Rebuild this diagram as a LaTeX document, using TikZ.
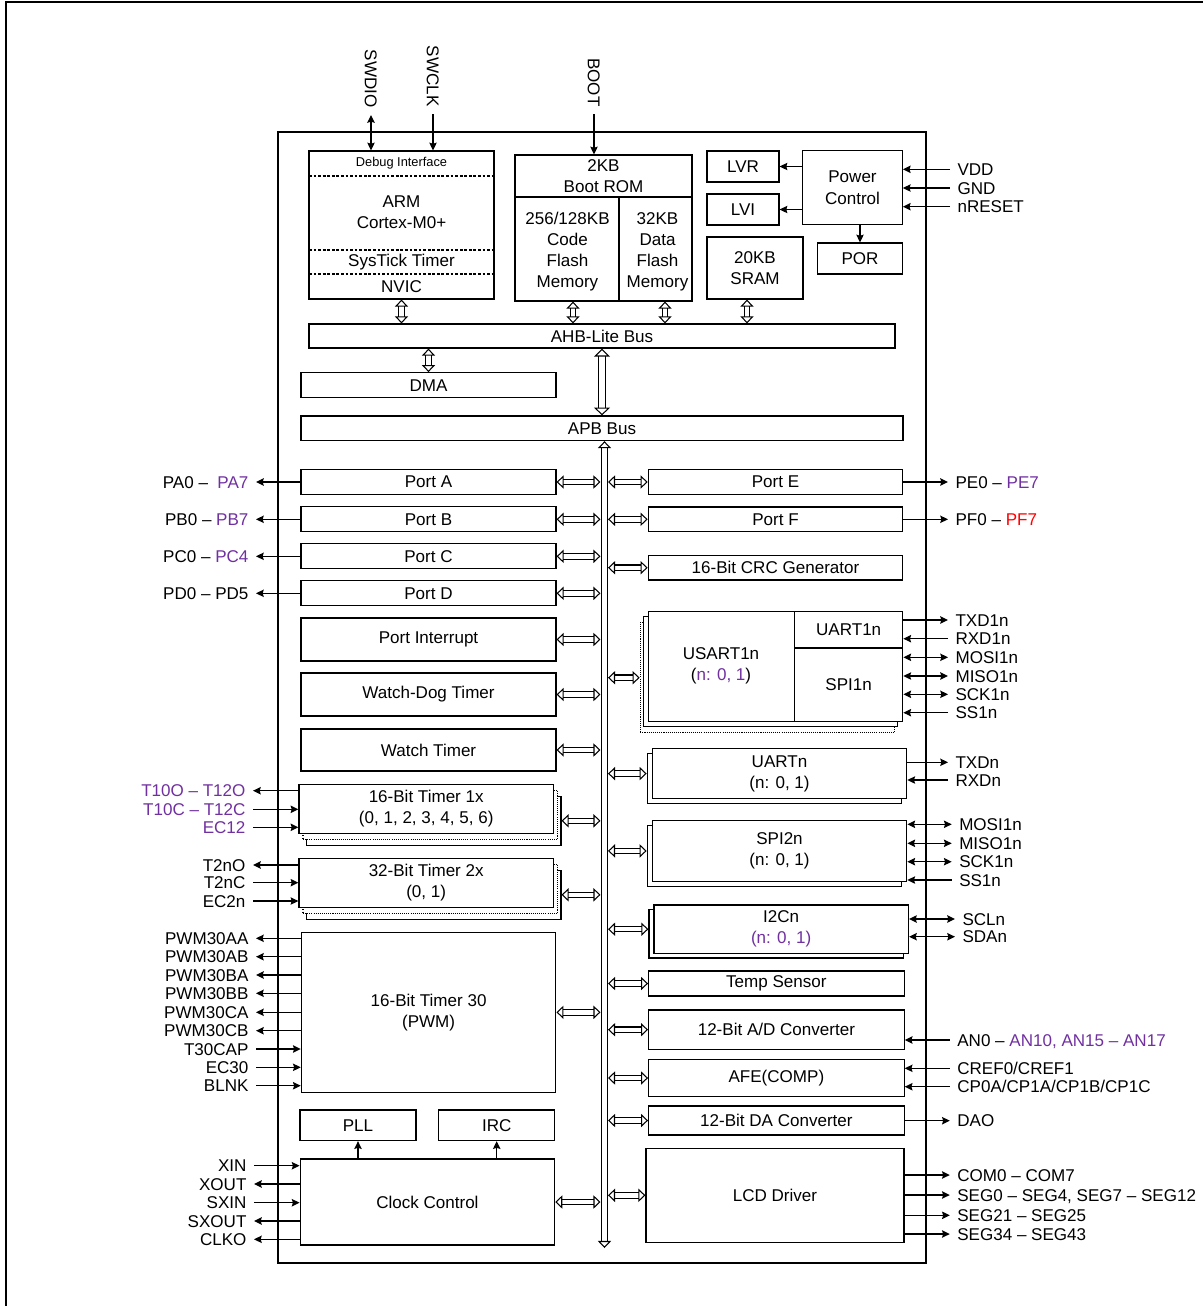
\documentclass[tikz,border=0pt]{standalone}
\usepackage{fontspec}
\setmainfont{Liberation Sans}
\usetikzlibrary{arrows.meta,positioning}
\definecolor{sigpurple}{RGB}{112,48,160}
\definecolor{sigred}{RGB}{255,0,0}

\begin{document}
\begin{tikzpicture}[x=0.02cm,y=-0.02cm,
  every node/.style={font=\fontsize{9.7}{12}\selectfont},
  blk/.style={draw,line width=.7pt,fill=white,inner sep=0pt,align=center},
  dotblk/.style={blk,dash pattern=on .6pt off .6pt},
  sig/.style={inner sep=0pt,outer sep=4.3pt,text height=6.9pt,text depth=0pt},
  wire/.style={line width=.7pt,-{Stealth[length=4.4pt,width=4.2pt,inset=.6pt]}},
  wire2/.style={line width=.7pt,{Stealth[length=4.4pt,width=4.2pt,inset=.6pt]}-{Stealth[length=4.4pt,width=4.2pt,inset=.6pt]}},
  busarr/.style={double,double distance=2.5pt,line width=.6pt,
    {Triangle[open,line width=.6pt,length=4pt,width=7.5pt]}-{Triangle[open,line width=.6pt,length=4pt,width=7.5pt]}},
  busarrw/.style={double,double distance=3.6pt,line width=.6pt,
    {Triangle[open,line width=.6pt,length=4.5pt,width=9pt]}-{Triangle[open,line width=.6pt,length=4.5pt,width=9pt]}}]
\useasboundingbox (0,0) rectangle (1203,1306);
\draw[line width=1.15pt] (6,1306) -- (6,2) -- (1203,2);
\draw[line width=.7pt] (278,132) rectangle (926,1263);

% core and memories
\node[blk,minimum width=3.7cm,minimum height=2.96cm] (dbg) at (401.5,225) {};
\draw[line width=.6pt,dash pattern=on 1.6pt off 1pt] (309,176)--(494,176) (309,250)--(494,250) (309,274)--(494,274);
\node[font=\fontsize{7.3}{9}\selectfont] (dbgif) at (401.5,163) {Debug Interface};
\node[align=center] (arm) at (401.5,212) {ARM\\Cortex-M0+};
\node (systick) at (401.5,262) {SysTick Timer};
\node (nvic) at (401.5,286.5) {NVIC};
\node[blk,minimum width=3.54cm,minimum height=2.92cm] (mem) at (603.5,228) {};
\draw[line width=.7pt] (515,197)--(692,197) (619,197)--(619,301);
\node[align=center] (bootrom) at (603.5,176) {2KB\\Boot ROM};
\node[align=center] (cflash) at (567.5,251.5) {256/128KB\\Code\\Flash\\Memory};
\node[align=center] (dflash) at (657.5,251.5) {32KB\\Data\\Flash\\Memory};
\node[blk,minimum width=1.44cm,minimum height=.62cm] (lvr) at (743,166.5) {LVR};
\node[blk,minimum width=1.44cm,minimum height=.62cm] (lvi) at (743,209.5) {LVI};
\node[blk,minimum width=1.92cm,minimum height=1.24cm] (sram) at (755,268) {20KB\\SRAM};
\node[blk,minimum width=1.99cm,minimum height=1.48cm] (pwr) at (852.5,187.7) {Power\\Control};
\node[blk,minimum width=1.69cm,minimum height=.62cm] (por) at (860,258.5) {POR};
\draw[wire] (pwr.west |- lvr) -- (lvr.east);
\draw[wire] (pwr.west |- lvi) -- (lvi.east);
\draw[wire] (pwr.south -| por) -- (por.north);
\node[sig,anchor=west] (vdd) at (950,169.3) {VDD};\draw[wire] (vdd.west) -- (vdd.west -| pwr.east);
\node[sig,anchor=west] (gnd) at (950,188) {GND};\draw[wire] (gnd.west) -- (gnd.west -| pwr.east);
\node[sig,anchor=west] (nrst) at (950,206.7) {nRESET};\draw[wire] (nrst.west) -- (nrst.west -| pwr.east);
\node[sig,rotate=-90,anchor=east] (swdio) at (371,115) {SWDIO};\draw[wire2] (swdio.east) -- (swdio.east |- dbg.north);
\node[sig,rotate=-90,anchor=east] (swclk) at (433,114) {SWCLK};\draw[wire] (swclk.east) -- (swclk.east |- dbg.north);
\node[sig,rotate=-90,anchor=east] (boot) at (594,114) {BOOT};\draw[wire] (boot.east) -- (boot.east |- mem.north);

% buses
\node[blk,minimum width=11.72cm,minimum height=.48cm] (ahb) at (602,336) {AHB-Lite Bus};
\node[blk,minimum width=5.1cm,minimum height=.5cm] (dma) at (428.5,385.2) {DMA};
\node[blk,minimum width=12.04cm,minimum height=.49cm] (apb) at (602,428.3) {APB Bus};
\coordinate (m1) at (573,0);\coordinate (m2) at (665,0);\coordinate (s1) at (747,0);
\coordinate (busL) at (600.5,0);\coordinate (busR) at (608,0);\coordinate (busend) at (604.5,1248);
\draw[busarr] (dbg.south) -- (dbg.south |- ahb.north);
\draw[busarr] (mem.south -| m1) -- (ahb.north -| m1);
\draw[busarr] (mem.south -| m2) -- (ahb.north -| m2);
\draw[busarr] (sram.south -| s1) -- (ahb.north -| s1);
\draw[busarr] (ahb.south -| dma) -- (dma.north);
\draw[busarrw] (ahb.south) -- (apb.north);
\draw[busarr] (apb.south -| busend) -- (busend);

% left peripherals
\node[blk,minimum width=5.1cm,minimum height=.5cm] (porta) at (428.5,482) {Port A};
\node[blk,minimum width=5.1cm,minimum height=.5cm] (portb) at (428.5,519.3) {Port B};
\node[blk,minimum width=5.1cm,minimum height=.5cm] (portc) at (428.5,556.3) {Port C};
\node[blk,minimum width=5.1cm,minimum height=.5cm] (portd) at (428.5,593.3) {Port D};
\node[blk,minimum width=5.1cm,minimum height=.86cm] (portint) at (428.5,639.5) {Port Interrupt};
\node[blk,minimum width=5.1cm,minimum height=.86cm] (wdt) at (428.5,694.5) {Watch-Dog Timer};
\node[blk,minimum width=5.1cm,minimum height=.84cm] (wt) at (428.5,750) {Watch Timer};
\node[blk,minimum width=5.09cm,minimum height=.98cm] (tmr1c) at (433.7,820.8) {};
\node[dotblk,minimum width=5.09cm,minimum height=.98cm] (tmr1b) at (430.2,814.8) {};
\node[blk,minimum width=5.09cm,minimum height=.98cm] (tmr1) at (426.2,808.8) {16-Bit Timer 1x\\(0, 1, 2, 3, 4, 5, 6)};
\node[blk,minimum width=5.09cm,minimum height=.98cm] (tmr2c) at (433.7,894.8) {};
\node[dotblk,minimum width=5.09cm,minimum height=.98cm] (tmr2b) at (430.2,888.8) {};
\node[blk,minimum width=5.09cm,minimum height=.98cm] (tmr2) at (426.2,882.8) {32-Bit Timer 2x\\(0, 1)};
\node[blk,minimum width=5.09cm,minimum height=3.2cm] (tmr30) at (428.6,1012.3) {16-Bit Timer 30\\(PWM)};
\node[blk,minimum width=2.32cm,minimum height=.61cm] (pll) at (358,1125.3) {PLL};
\node[blk,minimum width=2.32cm,minimum height=.61cm] (irc) at (496.7,1125.3) {IRC};
\node[blk,minimum width=5.09cm,minimum height=1.72cm] (clk) at (427.4,1202) {Clock Control};
\draw[wire] (clk.north -| pll) -- (pll.south);
\draw[wire] (clk.north -| irc) -- (irc.south);
\draw[busarr] (porta.east) -- (porta.east -| busL);
\draw[busarr] (portb.east) -- (portb.east -| busL);
\draw[busarr] (portc.east) -- (portc.east -| busL);
\draw[busarr] (portd.east) -- (portd.east -| busL);
\draw[busarr] (portint.east) -- (portint.east -| busL);
\draw[busarr] (wdt.east) -- (wdt.east -| busL);
\draw[busarr] (wt.east) -- (wt.east -| busL);
\draw[busarr] (tmr1c.east) -- (tmr1c.east -| busL);
\draw[busarr] (tmr2c.east) -- (tmr2c.east -| busL);
\draw[busarr] (tmr30.east) -- (tmr30.east -| busL);
\draw[busarr] (clk.east) -- (clk.east -| busL);

% left pins
\node[sig,anchor=east] (pa) at (256,482) {PA0 –\ \ \textcolor{sigpurple}{PA7}};\draw[wire] (porta.west) -- (pa.east);
\node[sig,anchor=east] (pb) at (256,519.3) {PB0 – \textcolor{sigpurple}{PB7}};\draw[wire] (portb.west) -- (pb.east);
\node[sig,anchor=east] (pc) at (256,556.3) {PC0 – \textcolor{sigpurple}{PC4}};\draw[wire] (portc.west) -- (pc.east);
\node[sig,anchor=east] (pd) at (256,593.3) {PD0 – PD5};\draw[wire] (portd.west) -- (pd.east);
\node[sig,anchor=east,text=sigpurple] (t1o) at (253,790.7) {T10O – T12O};\draw[wire] (t1o.east -| tmr1.west) -- (t1o.east);
\node[sig,anchor=east,text=sigpurple] (t1c) at (253,809.3) {T10C – T12C};\draw[wire] (t1c.east) -- (t1c.east -| tmr1.west);
\node[sig,anchor=east,text=sigpurple] (ec12) at (253,827.3) {EC12};\draw[wire] (ec12.east) -- (ec12.east -| tmr1.west);
\node[sig,anchor=east] (t2o) at (253,865) {T2nO};\draw[wire] (t2o.east -| tmr2.west) -- (t2o.east);
\node[sig,anchor=east] (t2c) at (253,882.7) {T2nC};\draw[wire] (t2c.east) -- (t2c.east -| tmr2.west);
\node[sig,anchor=east] (ec2n) at (253,901) {EC2n};\draw[wire] (ec2n.east) -- (ec2n.east -| tmr2.west);
\node[sig,anchor=east] (pwmaa) at (256,938.3) {PWM30AA};\draw[wire] (pwmaa.east -| tmr30.west) -- (pwmaa.east);
\node[sig,anchor=east] (pwmab) at (256,956.7) {PWM30AB};\draw[wire] (pwmab.east -| tmr30.west) -- (pwmab.east);
\node[sig,anchor=east] (pwmba) at (256,975) {PWM30BA};\draw[wire] (pwmba.east -| tmr30.west) -- (pwmba.east);
\node[sig,anchor=east] (pwmbb) at (256,993.3) {PWM30BB};\draw[wire] (pwmbb.east -| tmr30.west) -- (pwmbb.east);
\node[sig,anchor=east] (pwmca) at (256,1012.3) {PWM30CA};\draw[wire] (pwmca.east -| tmr30.west) -- (pwmca.east);
\node[sig,anchor=east] (pwmcb) at (256,1030.7) {PWM30CB};\draw[wire] (pwmcb.east -| tmr30.west) -- (pwmcb.east);
\node[sig,anchor=east] (t30cap) at (256,1049) {T30CAP};\draw[wire] (t30cap.east) -- (t30cap.east -| tmr30.west);
\node[sig,anchor=east] (ec30) at (256,1067.3) {EC30};\draw[wire] (ec30.east) -- (ec30.east -| tmr30.west);
\node[sig,anchor=east] (blnk) at (256,1085.7) {BLNK};\draw[wire] (blnk.east) -- (blnk.east -| tmr30.west);
\node[sig,anchor=east] (xin) at (254,1165.7) {XIN};\draw[wire] (xin.east) -- (xin.east -| clk.west);
\node[sig,anchor=east] (xout) at (254,1184) {XOUT};\draw[wire] (xout.east -| clk.west) -- (xout.east);
\node[sig,anchor=east] (sxin) at (254,1202.7) {SXIN};\draw[wire] (sxin.east) -- (sxin.east -| clk.west);
\node[sig,anchor=east] (sxout) at (254,1221) {SXOUT};\draw[wire] (sxout.east -| clk.west) -- (sxout.east);
\node[sig,anchor=east] (clko) at (254,1239.3) {CLKO};\draw[wire] (clko.east -| clk.west) -- (clko.east);

% right peripherals
\node[blk,minimum width=5.09cm,minimum height=.49cm] (porte) at (775.5,482) {Port E};
\node[blk,minimum width=5.09cm,minimum height=.49cm] (portf) at (775.5,519.3) {Port F};
\node[blk,minimum width=5.09cm,minimum height=.49cm] (crc) at (775.5,567.7) {16-Bit CRC Generator};
\node[dotblk,minimum width=5.09cm,minimum height=2.2cm] (usartc) at (767.5,677.7) {};
\node[blk,minimum width=5.09cm,minimum height=2.2cm] (usartb) at (770.5,671.7) {};
\node[blk,minimum width=5.09cm,minimum height=2.2cm] (usart) at (775.5,666.7) {};
\draw[line width=.7pt] (794.7,611.7)--(794.7,721.7) (794.7,648)--(902.7,648);
\node[align=center] (usarttxt) at (721,665.5) {USART1n\\(\textcolor{sigpurple}{n: 0, 1})};
\node (uart1) at (848.7,630) {UART1n};
\node (spi1) at (848.7,684.3) {SPI1n};
\node[blk,minimum width=5.09cm,minimum height=.99cm] (uartsh) at (774.5,778.6) {};
\node[blk,minimum width=5.09cm,minimum height=.99cm] (uart) at (779.5,773.6) {UARTn\\(n: 0, 1)};
\node[blk,minimum width=5.09cm,minimum height=1.23cm] (spi2sh) at (774.5,855.9) {};
\node[blk,minimum width=5.09cm,minimum height=1.23cm] (spi2) at (779.5,850.9) {SPI2n\\(n: 0, 1)};
\node[blk,minimum width=5.09cm,minimum height=.97cm] (i2csh) at (776.2,933.7) {};
\node[blk,minimum width=5.09cm,minimum height=.97cm] (i2c) at (781.2,929.2) {I2Cn\\\textcolor{sigpurple}{(n: 0, 1)}};
\node[blk,minimum width=5.11cm,minimum height=.5cm] (temp) at (776.4,983.5) {Temp Sensor};
\node[blk,minimum width=5.11cm,minimum height=.79cm] (adc) at (776.4,1029.7) {12-Bit A/D Converter};
\node[blk,minimum width=5.11cm,minimum height=.75cm] (afe) at (776.4,1078) {AFE(COMP)};
\node[blk,minimum width=5.11cm,minimum height=.58cm] (dac) at (776.4,1120.5) {12-Bit DA Converter};
\node[blk,minimum width=5.16cm,minimum height=1.88cm] (lcd) at (775,1195.3) {LCD Driver};
\draw[busarr] (porte.west -| busR) -- (porte.west);
\draw[busarr] (portf.west -| busR) -- (portf.west);
\draw[busarr] (crc.west -| busR) -- (crc.west);
\draw[busarr] (usartc.west -| busR) -- (usartc.west);
\draw[busarr] (busR |- uart) -- (uartsh.west |- uart);
\draw[busarr] (busR |- spi2) -- (spi2sh.west |- spi2);
\draw[busarr] (busR |- i2c) -- (i2csh.west |- i2c);
\draw[busarr] (temp.west -| busR) -- (temp.west);
\draw[busarr] (adc.west -| busR) -- (adc.west);
\draw[busarr] (afe.west -| busR) -- (afe.west);
\draw[busarr] (dac.west -| busR) -- (dac.west);
\draw[busarr] (lcd.west -| busR) -- (lcd.west);

% right pins
\node[sig,anchor=west] (pe) at (948,482) {PE0 – \textcolor{sigpurple}{PE7}};\draw[wire] (porte.east) -- (pe.west);
\node[sig,anchor=west] (pf) at (948,519.3) {PF0 – \textcolor{sigred}{PF7}};\draw[wire] (portf.east) -- (pf.west);
\node[sig,anchor=west] (txd1) at (948,620) {TXD1n};\draw[wire] (txd1.west -| usart.east) -- (txd1.west);
\node[sig,anchor=west] (rxd1) at (948,638.7) {RXD1n};\draw[wire] (rxd1.west) -- (rxd1.west -| usart.east);
\node[sig,anchor=west] (mosi1) at (948,657.3) {MOSI1n};\draw[wire2] (mosi1.west) -- (mosi1.west -| usart.east);
\node[sig,anchor=west] (miso1) at (948,676) {MISO1n};\draw[wire2] (miso1.west) -- (miso1.west -| usart.east);
\node[sig,anchor=west] (sck1) at (948,694.3) {SCK1n};\draw[wire2] (sck1.west) -- (sck1.west -| usart.east);
\node[sig,anchor=west] (ss1) at (948,712.7) {SS1n};\draw[wire] (ss1.west) -- (ss1.west -| usart.east);
\node[sig,anchor=west] (txd) at (948,762.3) {TXDn};\draw[wire] (txd.west -| uart.east) -- (txd.west);
\node[sig,anchor=west] (rxd) at (948,780) {RXDn};\draw[wire] (rxd.west) -- (rxd.west -| uart.east);
\node[sig,anchor=west] (mosi2) at (951.7,824.3) {MOSI1n};\draw[wire2] (mosi2.west) -- (mosi2.west -| spi2.east);
\node[sig,anchor=west] (miso2) at (951.7,843.3) {MISO1n};\draw[wire2] (miso2.west) -- (miso2.west -| spi2.east);
\node[sig,anchor=west] (sck2) at (951.7,861.7) {SCK1n};\draw[wire2] (sck2.west) -- (sck2.west -| spi2.east);
\node[sig,anchor=west] (ss2) at (951.7,880) {SS1n};\draw[wire] (ss2.west) -- (ss2.west -| spi2.east);
\node[sig,anchor=west] (scl) at (955,919) {SCLn};\draw[wire2] (scl.west) -- (scl.west -| i2c.east);
\node[sig,anchor=west] (sda) at (955,936.7) {SDAn};\draw[wire2] (sda.west) -- (sda.west -| i2c.east);
\node[sig,anchor=west] (an) at (949.8,1040) {AN0 – \textcolor{sigpurple}{AN10, AN15 – AN17}};\draw[wire] (an.west) -- (an.west -| adc.east);
\node[sig,anchor=west] (cref) at (949.8,1068.3) {CREF0/CREF1};\draw[wire] (cref.west) -- (cref.west -| afe.east);
\node[sig,anchor=west] (cp) at (949.8,1086.7) {CP0A/CP1A/CP1B/CP1C};\draw[wire] (cp.west) -- (cp.west -| afe.east);
\node[sig,anchor=west] (dao) at (949.8,1120.7) {DAO};\draw[wire] (dac.east |- dao.west) -- (dao.west);
\node[sig,anchor=west] (com) at (949.8,1175) {COM0 – COM7};\draw[wire] (com.west -| lcd.east) -- (com.west);
\node[sig,anchor=west] (seg0) at (949.8,1195) {SEG0 – SEG4, SEG7 – SEG12};\draw[wire] (seg0.west -| lcd.east) -- (seg0.west);
\node[sig,anchor=west] (seg21) at (949.8,1215.3) {SEG21 – SEG25};\draw[wire] (seg21.west -| lcd.east) -- (seg21.west);
\node[sig,anchor=west] (seg34) at (949.8,1234) {SEG34 – SEG43};\draw[wire] (seg34.west -| lcd.east) -- (seg34.west);
\end{tikzpicture}
\end{document}
